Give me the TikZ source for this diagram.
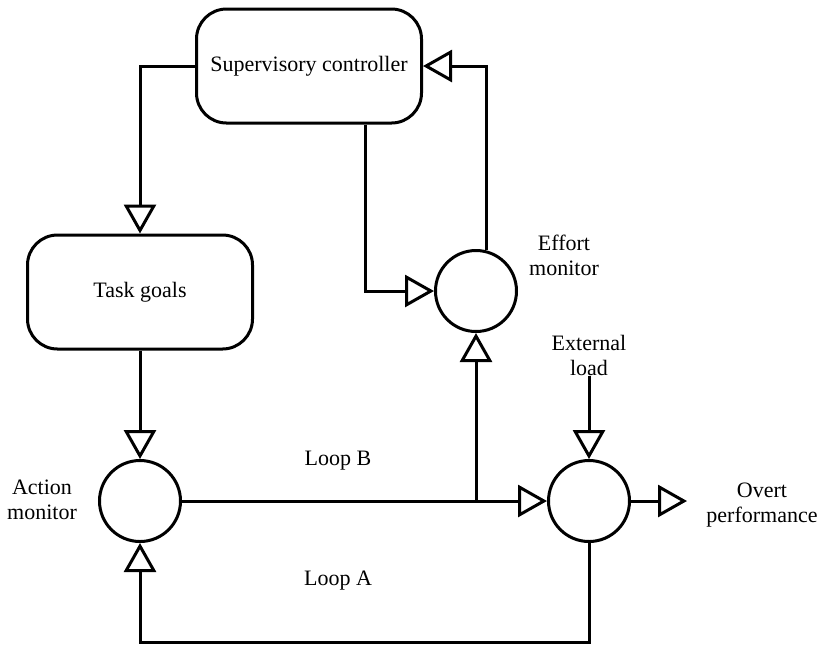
\documentclass[tikz,border=0pt]{standalone}
\usepackage{fontspec}
\setmainfont{Liberation Serif}
\usetikzlibrary{arrows.meta}
\tikzset{
  lbl/.style={font=\fontsize{11}{12.5}\selectfont, align=center, inner sep=0pt},
  rbox/.style={draw, line width=1.5pt, rounded corners=15pt, minimum width=112.5pt, minimum height=57pt, font=\fontsize{11}{12.5}\selectfont, inner sep=0pt},
  sumc/.style={draw, circle, line width=1.5pt, minimum size=40.5pt, inner sep=0pt},
  arr/.style={line width=1.5pt, -{Triangle[open, length=14.5pt, width=16pt]}},
  ln/.style={line width=1.5pt}
}
\begin{document}
\begin{tikzpicture}[x=0.5pt, y=-0.5pt]
\useasboundingbox (0,0) rectangle (820,645);
\node[rbox] (sup) at (309,66) {Supervisory controller};
\node[rbox] (task) at (140,292) {Task goals};
\node[sumc] (am) at (140,501) {};
\node[sumc] (em) at (476,291) {};
\node[sumc] (op) at (589,501) {};
\node[lbl] (aml) at (42,500) {Action\\monitor};
\node[lbl] (eml) at (564,255) {Effort\\monitor};
\node[lbl, anchor=south] (ext) at (589,376) {External\\load};
\node[lbl] (ovl) at (762,505) {Overt\\performance};
\node[lbl] (lb) at (338,461) {Loop B};
\node[lbl] (la) at (338,581) {Loop A};
\coordinate (bot) at (0,642);
\coordinate (sx) at (365,0);
\coordinate (outtip) at (687,501);
\coordinate (j) at (em.south |- am.east);
\draw[arr] (sup.west) -| (task.north);
\draw[arr] (task.south) -- (am.north);
\draw[arr] (am.east) -- (op.west);
\draw[arr] (j) -- (em.south);
\draw[arr] (op.south) -- (op.south |- bot) -| (am.south);
\draw[arr] (sup.south -| sx) |- (em.west);
\draw[arr] (em.75.7) |- (sup.east);
\draw[arr] (ext.south) -- (op.north);
\draw[arr] (op.east) -- (outtip);
\end{tikzpicture}
\end{document}
